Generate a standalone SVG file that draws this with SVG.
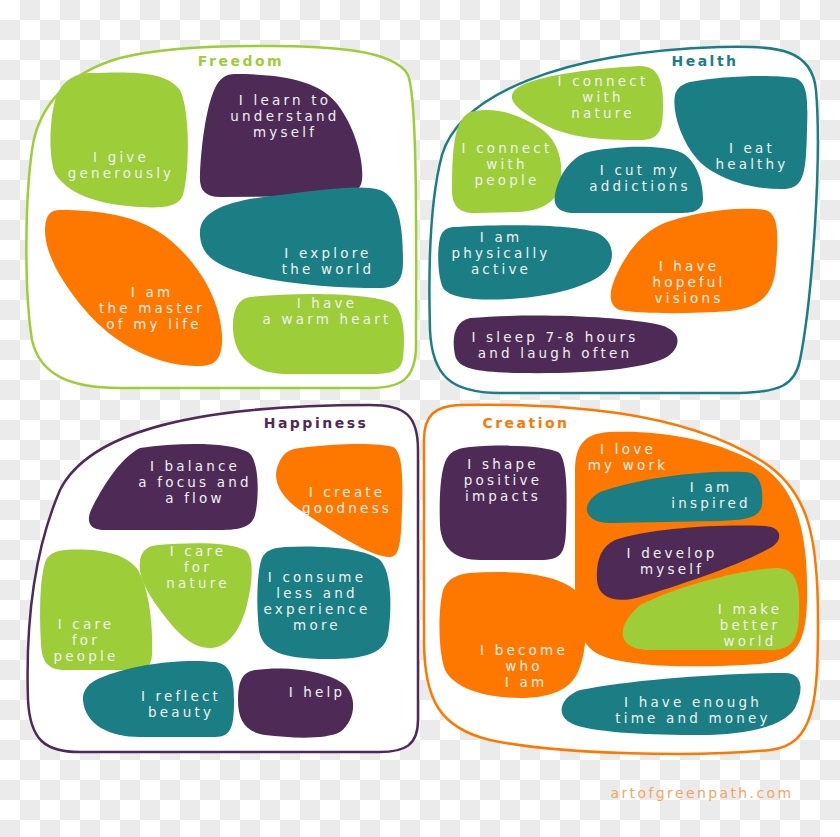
<svg xmlns="http://www.w3.org/2000/svg" width="840" height="837" viewBox="0 0 840 837">
<defs>
<pattern id="checker" width="40" height="40" patternUnits="userSpaceOnUse">
<rect width="40" height="40" fill="#ffffff"/>
<rect x="20" y="0" width="20" height="20" fill="#ebebeb"/>
<rect x="0" y="20" width="20" height="20" fill="#ebebeb"/>
</pattern>
<style>
.frame{fill:#ffffff;stroke-width:2.5}
.g{fill:#9ecd3a}.p{fill:#4e2b57}.t{fill:#1b7e85}.o{fill:#fe7800}
.lbl{font-family:"DejaVu Sans","Liberation Sans",sans-serif;font-size:13.5px;letter-spacing:3.2px;fill:#eef1f0;text-anchor:middle}
.ttl{font-family:"DejaVu Sans","Liberation Sans",sans-serif;font-size:14px;font-weight:bold;letter-spacing:2.5px;text-anchor:middle}
</style>
</defs>
<rect width="840" height="837" fill="url(#checker)"/>

<g id="freedom">
<path class="frame" stroke="#9ecd3a" d="M 253 46 C 330 45, 395 50, 408 75 C 418 100, 416 250, 416 345 C 416 380, 400 388, 370 388 L 120 388 C 70 388, 40 375, 32 340 C 24 290, 25 200, 32 150 C 38 105, 70 72, 120 58 C 160 48, 210 46, 253 46 Z"/>
<text class="ttl" x="241" y="66" fill="#9ecd3a">Freedom</text>
</g>
<g id="f-give">
<path class="g" d="M 90 73 C 130 72, 165 70, 180 90 C 190 110, 190 170, 183 195 C 178 208, 160 208, 140 207 C 100 205, 70 195, 56 175 C 48 160, 50 120, 54 105 C 58 85, 70 74, 90 73 Z"/>
<text class="lbl" x="121" y="162">I give</text><text class="lbl" x="121" y="178">generously</text>
</g>
<g id="f-learn">
<path class="p" d="M 235 74 C 280 74, 320 80, 338 105 C 355 128, 364 160, 362 180 C 360 195, 345 196, 330 196 L 220 197 C 205 197, 199 190, 200 175 C 201 150, 205 110, 215 88 C 220 78, 226 74, 235 74 Z"/>
<text class="lbl" x="285" y="105">I learn to</text><text class="lbl" x="285" y="121">understand</text><text class="lbl" x="285" y="137">myself</text>
</g>
<g id="f-explore">
<path class="t" d="M 200 235 C 198 210, 230 200, 280 195 C 320 190, 360 184, 380 190 C 400 197, 403 230, 403 262 C 403 282, 395 288, 380 288 C 340 288, 290 285, 250 275 C 215 266, 201 255, 200 235 Z"/>
<text class="lbl" x="328" y="258">I explore</text><text class="lbl" x="328" y="274">the world</text>
</g>
<g id="f-master">
<path class="o" d="M 60 210 C 100 210, 140 215, 170 240 C 200 265, 220 300, 222 335 C 223 360, 215 367, 195 366 C 155 365, 115 345, 85 310 C 58 278, 44 250, 45 228 C 46 215, 50 210, 60 210 Z"/>
<text class="lbl" x="152" y="297">I am</text><text class="lbl" x="152" y="313">the master</text><text class="lbl" x="154" y="329">of my life</text>
</g>
<g id="f-heart">
<path class="g" d="M 250 297 C 300 292, 370 293, 392 303 C 405 310, 405 340, 403 358 C 401 372, 390 374, 370 374 L 290 374 C 255 374, 235 360, 233 330 C 232 310, 238 299, 250 297 Z"/>
<text class="lbl" x="327" y="308">I have</text><text class="lbl" x="327" y="324">a warm heart</text>
</g>

<g id="health">
<path class="frame" stroke="#1b7e85" d="M 720 47 C 780 45, 812 50, 816 90 C 822 160, 812 300, 800 360 C 795 385, 780 392, 740 393 L 500 393 C 450 393, 432 375, 430 330 C 428 260, 430 200, 442 155 C 460 95, 560 52, 720 47 Z"/>
<text class="ttl" x="705" y="66" fill="#1b7e85">Health</text>
</g>
<g id="h-nature">
<path class="g" d="M 515 90 C 530 75, 600 68, 640 66 C 658 66, 663 80, 663 105 C 663 130, 660 140, 640 140 C 600 140, 570 138, 545 125 C 520 112, 505 100, 515 90 Z"/>
<text class="lbl" x="603" y="86">I connect</text><text class="lbl" x="603" y="102">with</text><text class="lbl" x="603" y="118">nature</text>
</g>
<g id="h-eat">
<path class="t" d="M 690 82 C 720 76, 770 74, 795 78 C 808 82, 808 100, 807 130 C 806 170, 805 188, 785 189 C 750 190, 715 178, 698 160 C 680 140, 672 110, 675 95 C 677 87, 683 84, 690 82 Z"/>
<text class="lbl" x="752" y="153">I eat</text><text class="lbl" x="752" y="169">healthy</text>
</g>
<g id="h-people">
<path class="g" d="M 475 111 C 498 107, 520 115, 540 128 C 558 140, 563 160, 561 180 C 559 200, 545 210, 520 212 L 475 213 C 458 213, 452 205, 452 190 C 452 165, 453 140, 458 127 C 462 117, 467 112, 475 111 Z"/>
<text class="lbl" x="507" y="153">I connect</text><text class="lbl" x="507" y="169">with</text><text class="lbl" x="507" y="185">people</text>
</g>
<g id="h-addictions">
<path class="t" d="M 585 153 C 610 146, 660 144, 680 152 C 695 158, 703 180, 703 198 C 703 210, 695 213, 680 213 L 575 213 C 558 213, 553 205, 555 195 C 558 178, 568 160, 585 153 Z"/>
<text class="lbl" x="640" y="175">I cut my</text><text class="lbl" x="640" y="191">addictions</text>
</g>
<g id="h-active">
<path class="t" d="M 455 227 C 500 224, 570 224, 595 232 C 612 238, 616 255, 608 268 C 598 283, 560 296, 510 299 C 475 301, 450 298, 443 288 C 437 275, 437 245, 441 235 C 444 229, 449 227, 455 227 Z"/>
<text class="lbl" x="501" y="242">I am</text><text class="lbl" x="501" y="258">physically</text><text class="lbl" x="501" y="274">active</text>
</g>
<g id="h-visions">
<path class="o" d="M 660 225 C 690 212, 740 206, 765 210 C 780 213, 778 240, 776 265 C 774 295, 760 308, 730 311 C 690 314, 640 314, 620 310 C 608 306, 609 292, 615 278 C 625 255, 640 235, 660 225 Z"/>
<text class="lbl" x="689" y="271">I have</text><text class="lbl" x="689" y="287">hopeful</text><text class="lbl" x="689" y="303">visions</text>
</g>
<g id="h-sleep">
<path class="p" d="M 470 318 C 530 313, 620 316, 660 325 C 683 331, 682 348, 665 358 C 640 370, 580 374, 520 373 C 480 372, 458 370, 455 355 C 452 340, 453 322, 470 318 Z"/>
<text class="lbl" x="555" y="342">I sleep 7-8 hours</text><text class="lbl" x="555" y="358">and laugh often</text>
</g>

<g id="happiness">
<path class="frame" stroke="#4e2b57" d="M 370 405 C 405 405, 418 415, 418 450 L 418 720 C 418 745, 405 752, 380 752 L 80 752 C 45 752, 30 740, 28 700 C 26 640, 30 560, 60 490 C 90 430, 200 405, 370 405 Z"/>
<text class="ttl" x="316" y="428" fill="#4e2b57">Happiness</text>
</g>
<g id="p-balance">
<path class="p" d="M 140 448 C 180 442, 230 442, 248 452 C 260 460, 259 500, 255 515 C 252 527, 240 530, 220 530 L 105 530 C 90 530, 85 522, 92 508 C 102 488, 120 458, 140 448 Z"/>
<text class="lbl" x="195" y="471">I balance</text><text class="lbl" x="195" y="487">a focus and</text><text class="lbl" x="195" y="503">a flow</text>
</g>
<g id="p-goodness">
<path class="o" d="M 300 448 C 340 443, 380 443, 393 447 C 403 452, 403 480, 402 510 C 401 540, 400 557, 390 557 C 370 557, 330 530, 300 510 C 280 496, 272 480, 278 465 C 283 452, 290 449, 300 448 Z"/>
<text class="lbl" x="347" y="497">I create</text><text class="lbl" x="347" y="513">goodness</text>
</g>
<g id="p-nature">
<path class="g" d="M 158 545 C 190 542, 230 542, 245 550 C 254 556, 253 580, 248 600 C 243 625, 230 648, 210 648 C 190 648, 175 630, 160 610 C 145 590, 138 575, 140 560 C 142 550, 148 546, 158 545 Z"/>
<text class="lbl" x="198" y="556">I care</text><text class="lbl" x="198" y="572">for</text><text class="lbl" x="198" y="588">nature</text>
</g>
<g id="p-consume">
<path class="t" d="M 285 547 C 320 545, 365 548, 380 560 C 392 572, 392 610, 388 635 C 384 655, 360 660, 320 659 C 285 658, 262 652, 259 630 C 256 605, 257 570, 262 558 C 266 550, 273 548, 285 547 Z"/>
<text class="lbl" x="317" y="582">I consume</text><text class="lbl" x="317" y="598">less and</text><text class="lbl" x="317" y="614">experience</text><text class="lbl" x="317" y="630">more</text>
</g>
<g id="p-people">
<path class="g" d="M 65 550 C 95 548, 125 552, 138 570 C 150 590, 153 630, 152 655 C 151 668, 145 670, 130 670 L 65 670 C 48 670, 42 662, 41 645 C 39 610, 40 575, 46 560 C 50 553, 56 551, 65 550 Z"/>
<text class="lbl" x="86" y="629">I care</text><text class="lbl" x="86" y="645">for</text><text class="lbl" x="86" y="661">people</text>
</g>
<g id="p-beauty">
<path class="t" d="M 100 678 C 130 665, 180 658, 215 662 C 232 664, 234 680, 234 700 C 234 725, 232 737, 215 737 L 140 737 C 110 737, 85 725, 83 700 C 82 690, 90 682, 100 678 Z"/>
<text class="lbl" x="181" y="701">I reflect</text><text class="lbl" x="181" y="717">beauty</text>
</g>
<g id="p-help">
<path class="p" d="M 255 670 C 290 665, 330 672, 345 685 C 357 697, 356 720, 340 732 C 325 740, 290 738, 265 735 C 245 732, 238 720, 238 700 C 238 680, 243 672, 255 670 Z"/>
<text class="lbl" x="317" y="697">I help</text>
</g>

<g id="creation">
<path class="frame" stroke="#fe7800" d="M 460 405 C 560 403, 680 410, 760 460 C 810 490, 818 540, 818 620 C 818 700, 815 745, 770 750 C 700 757, 560 755, 490 740 C 440 728, 424 700, 424 640 L 424 440 C 424 415, 435 406, 460 405 Z"/>
<text class="ttl" x="526" y="428" fill="#fe7800">Creation</text>
</g>
<g id="c-shape">
<path class="p" d="M 470 447 C 510 444, 545 446, 558 452 C 568 458, 567 500, 566 530 C 565 555, 560 560, 540 560 L 480 560 C 455 560, 441 548, 440 525 C 439 500, 440 470, 447 458 C 452 450, 460 448, 470 447 Z"/>
<text class="lbl" x="503" y="469">I shape</text><text class="lbl" x="503" y="485">positive</text><text class="lbl" x="503" y="501">impacts</text>
</g>
<g id="c-love">
<path class="o" d="M 610 432 C 660 430, 720 440, 760 465 C 800 490, 808 540, 807 600 C 806 645, 795 660, 760 664 C 700 668, 630 668, 600 655 C 578 645, 575 620, 575 580 L 575 470 C 575 445, 585 433, 610 432 Z"/>
<text class="lbl" x="628" y="454">I love</text><text class="lbl" x="628" y="470">my work</text>
</g>
<g id="c-inspired">
<path class="t" d="M 600 492 C 640 478, 700 470, 745 472 C 762 473, 763 490, 762 505 C 760 518, 745 520, 720 521 L 610 523 C 585 523, 578 505, 600 492 Z"/>
<text class="lbl" x="711" y="492">I am</text><text class="lbl" x="711" y="508">inspired</text>
</g>
<g id="c-develop">
<path class="p" d="M 615 540 C 650 528, 720 524, 765 526 C 782 527, 784 540, 770 548 C 740 565, 680 585, 640 597 C 615 604, 598 598, 597 580 C 596 562, 600 547, 615 540 Z"/>
<text class="lbl" x="672" y="558">I develop</text><text class="lbl" x="672" y="574">myself</text>
</g>
<g id="c-world">
<path class="g" d="M 640 605 C 680 585, 740 570, 775 568 C 797 567, 800 585, 799 615 C 798 640, 792 650, 770 650 L 650 650 C 620 650, 612 630, 640 605 Z"/>
<text class="lbl" x="750" y="614">I make</text><text class="lbl" x="750" y="630">better</text><text class="lbl" x="750" y="646">world</text>
</g>
<g id="c-become">
<path class="o" d="M 470 573 C 510 570, 555 573, 575 590 C 590 605, 588 650, 578 672 C 570 690, 550 698, 520 698 C 490 698, 455 690, 445 670 C 438 650, 438 610, 443 590 C 448 578, 458 574, 470 573 Z"/>
<text class="lbl" x="524" y="655">I become</text><text class="lbl" x="524" y="671">who</text><text class="lbl" x="526" y="687">I am</text>
</g>
<g id="c-money">
<path class="t" d="M 580 690 C 630 680, 720 673, 785 673 C 803 673, 804 690, 795 708 C 785 725, 750 735, 700 735 C 650 735, 600 733, 575 725 C 555 718, 558 698, 580 690 Z"/>
<text class="lbl" x="693" y="707">I have enough</text><text class="lbl" x="693" y="723">time and money</text>
</g>

<g id="connectors"></g>

<text x="702" y="798" style="font-family:'DejaVu Sans','Liberation Sans',sans-serif;font-size:14px;letter-spacing:2.4px;text-anchor:middle;fill:#f5a465">artofgreenpath.com</text>
</svg>
